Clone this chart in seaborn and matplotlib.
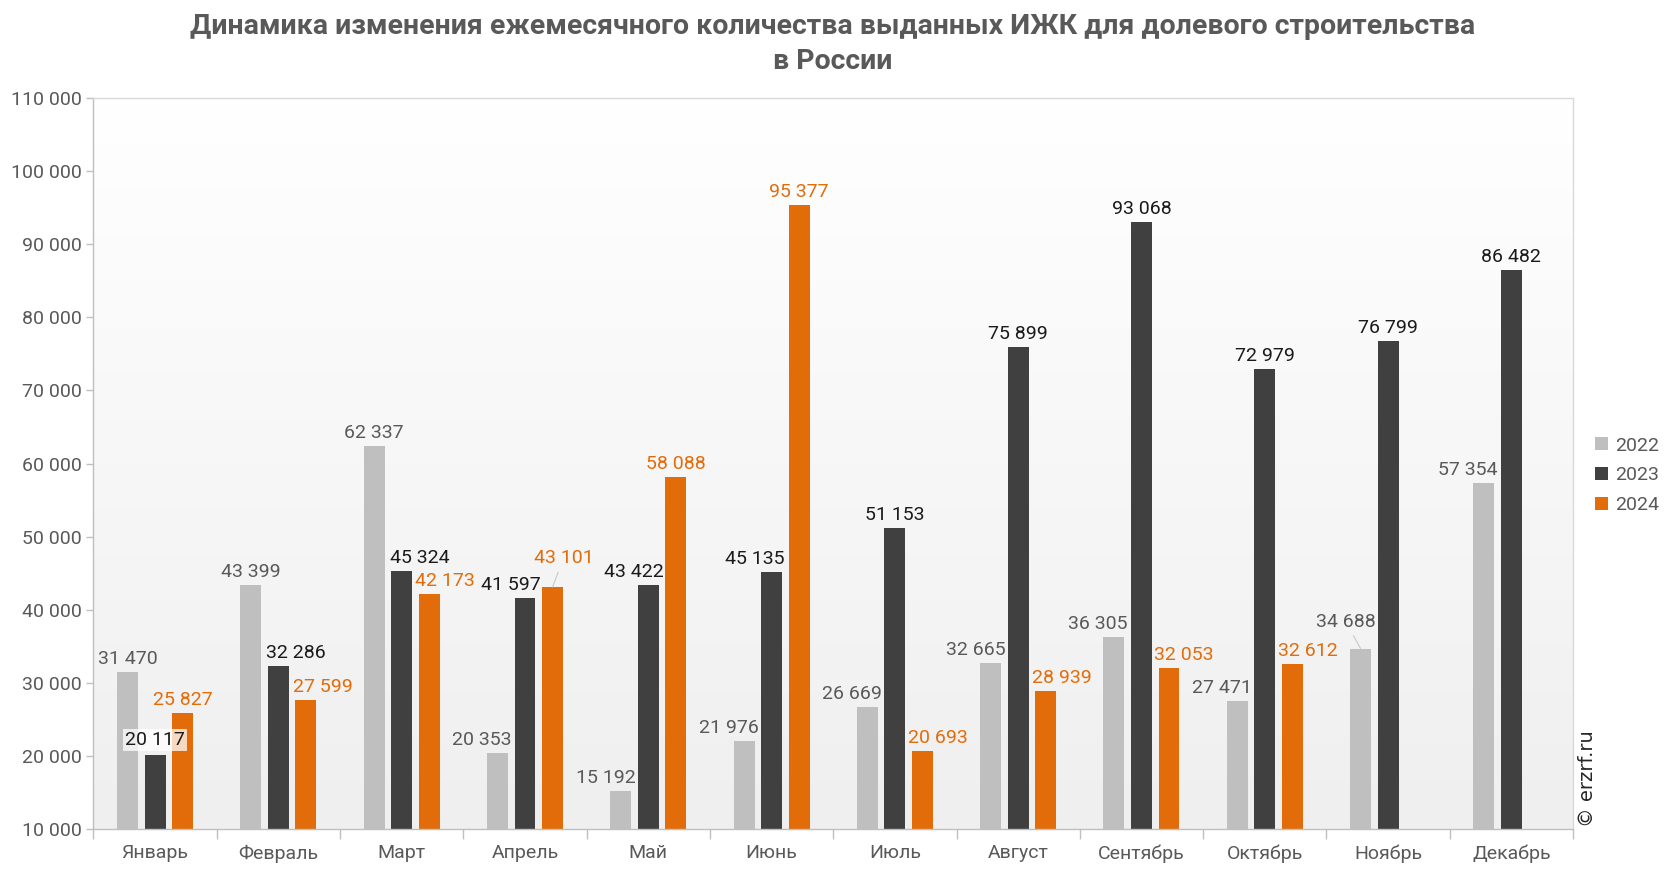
import numpy as np
import pandas as pd
import seaborn as sns
import matplotlib.pyplot as plt
from matplotlib.colors import LinearSegmentedColormap
from matplotlib.ticker import FuncFormatter, MultipleLocator

months = ["Январь", "Февраль", "Март", "Апрель", "Май", "Июнь",
          "Июль", "Август", "Сентябрь", "Октябрь", "Ноябрь", "Декабрь"]
years = ["2022", "2023", "2024"]
v2022 = [31470, 43399, 62337, 20353, 15192, 21976, 26669, 32665, 36305, 27471, 34688, 57354]
v2023 = [20117, 32286, 45324, 41597, 43422, 45135, 51153, 75899, 93068, 72979, 76799, 86482]
v2024 = [25827, 27599, 42173, 43101, 58088, 95377, 20693, 28939, 32053, 32612, np.nan, np.nan]

colors = {"2022": "#BFBFBF", "2023": "#404040", "2024": "#E36C0A"}
label_colors = {"2022": "#595959", "2023": "#1a1a1a", "2024": "#E36C0A"}

# label nudges in pixels (dx, dy) where Excel moved labels around
nudges = {
    ("2022", 3): (-16, 0), ("2022", 4): (-15, 0), ("2022", 5): (-15, 0),
    ("2022", 6): (-15, 0), ("2022", 7): (-15, 0), ("2022", 8): (-16, 0),
    ("2022", 9): (-15, 0), ("2022", 10): (-15, 14), ("2022", 11): (-16, 0),
    ("2023", 0): (0, 2), ("2023", 1): (17, 0), ("2023", 2): (18, 0),
    ("2023", 3): (-14, 0), ("2023", 4): (-14, 0), ("2023", 5): (-17, 0),
    ("2024", 1): (17, 0), ("2024", 2): (16, 0), ("2024", 3): (11, 16),
    ("2024", 6): (15, 0), ("2024", 7): (16, 0), ("2024", 8): (15, 0),
    ("2024", 9): (16, 0),
}
leaders = {("2022", 10), ("2024", 3)}

df = pd.DataFrame({
    "month": months * 3,
    "year": [y for y in years for _ in months],
    "value": v2022 + v2023 + v2024,
})

plt.rcParams["font.family"] = ["Roboto", "DejaVu Sans"]
fig = plt.figure(figsize=(16.66, 8.72), dpi=100)
ax = fig.add_axes([0.0561, 0.0493, 0.8881, 0.8383])

sns.barplot(data=df, x="month", y="value", hue="year", palette=colors,
            width=0.67, gap=0.24, linewidth=0, saturation=1, ax=ax,
            legend=True, zorder=2)

# gradient background
cmap = LinearSegmentedColormap.from_list("bg", ["#efefef", "#ffffff"])
grad = np.linspace(0, 1, 256).reshape(-1, 1)
ax.imshow(grad, extent=[0, 1, 0, 1], transform=ax.transAxes, aspect="auto",
          cmap=cmap, origin="lower", zorder=0)
ax.set_ylim(10000, 110000)
ax.set_xlim(-0.5, 11.5)

px = 72 / 100
for cont, year in zip(ax.containers, years):
    for i, bar in enumerate(cont):
        h = bar.get_height()
        if np.isnan(h):
            continue
        dx, dy = nudges.get((year, i), (0, 0))
        x = bar.get_x() + bar.get_width() / 2
        txt = f"{int(h):,}".replace(",", " ")
        kw = {}
        if (year, i) in leaders:
            kw["arrowprops"] = dict(arrowstyle="-", color="#c8c8c8", lw=0.8,
                                    shrinkA=2, shrinkB=0)
        if year == "2023" and i == 0:
            kw["bbox"] = dict(boxstyle="square,pad=0.1", fc="white", ec="none", alpha=0.75)
        ax.annotate(txt, xy=(x, h), xytext=(dx * px, (4 + dy) * px),
                    textcoords="offset points", ha="center", va="bottom",
                    fontsize=14, color=label_colors[year], zorder=5, **kw)

ax.yaxis.set_major_locator(MultipleLocator(10000))
ax.yaxis.set_major_formatter(FuncFormatter(lambda v, p: f"{int(v):,}".replace(",", " ")))
ax.tick_params(axis="y", labelsize=14, labelcolor="#595959", color="#bfbfbf",
               length=5, width=1)
ax.tick_params(axis="x", which="major", length=0, labelsize=14,
               labelcolor="#595959", pad=11)
ax.set_xticks(np.arange(-0.5, 12, 1), minor=True)
ax.tick_params(axis="x", which="minor", length=7, color="#bfbfbf", width=1)
ax.set_xlabel("")
ax.set_ylabel("")
ax.grid(False)

for s in ["left", "bottom"]:
    ax.spines[s].set_color("#bfbfbf")
for s in ["top", "right"]:
    ax.spines[s].set_color("#d9d9d9")
for s in ax.spines.values():
    s.set_linewidth(1)

handles, labels = ax.get_legend_handles_labels()
ax.legend_.remove()
fig.legend(handles, labels, loc="center left", bbox_to_anchor=(0.947, 0.455),
           frameon=False, fontsize=14, handlelength=0.65, handleheight=0.65,
           handletextpad=0.4, labelspacing=0.6, labelcolor="#595959")

fig.text(0.5, 0.949, "Динамика изменения ежемесячного количества выданных ИЖК для долевого строительства\nв России",
         ha="center", va="center", fontsize=20.5, fontweight="bold",
         color="#595959", linespacing=1.38)

fig.text(0.953, 0.052, "© erzrf.ru", rotation=90, ha="center", va="bottom",
         fontsize=14, color="#262626", family="DejaVu Sans")

fig.savefig("out.png", dpi=100)
